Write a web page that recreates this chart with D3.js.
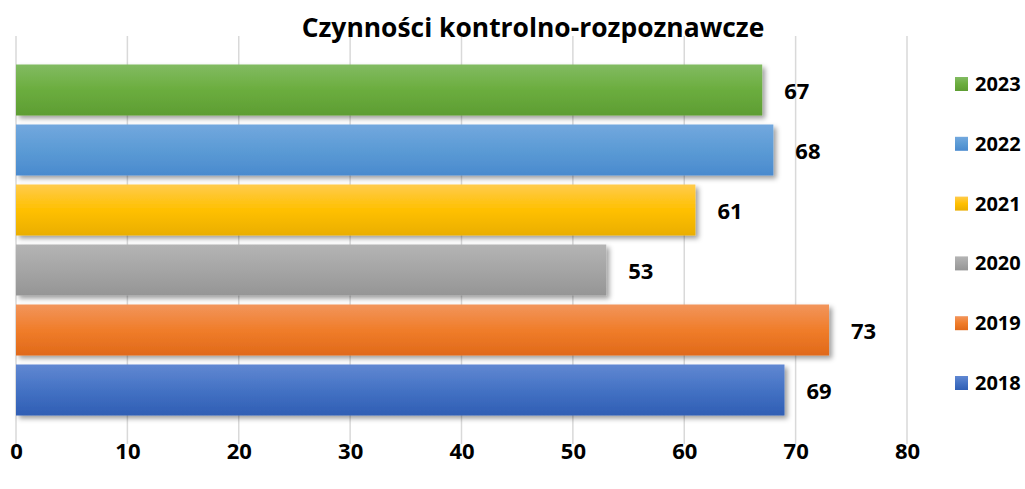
<!DOCTYPE html>
<html><head><meta charset="utf-8">
<script src="https://cdn.jsdelivr.net/npm/d3@7"></script>
<style>
html,body{margin:0;padding:0;background:#fff;}
text{font-family:"Open Sans","DejaVu Sans",sans-serif;font-weight:bold;fill:#000;}
</style></head>
<body><svg id="c" width="1025" height="489"></svg>
<script>
const title = "Czynności kontrolno-rozpoznawcze";
const years = ["2018","2019","2020","2021","2022","2023"];
const values = [69, 73, 53, 61, 68, 67];
const tickValues = [0,10,20,30,40,50,60,70,80];
const colorsTop = ["#6188d2","#f2955c","#b4b4b4","#ffcb4c","#73a8de","#82bb62"];
const colorsMid = ["#4472c4","#f07d2a","#a5a5a5","#ffc000","#5b9bd5","#6bad3e"];
const colorsBot = ["#2f5eb4","#e0691a","#959595","#eaae00","#4a8ace","#5e9d33"];

const svg = d3.select("#c");
const defs = svg.append("defs");
const f = defs.append("filter").attr("id","sh").attr("x","-5%").attr("y","-20%").attr("width","115%").attr("height","160%");
f.append("feDropShadow").attr("dx",3).attr("dy",3).attr("stdDeviation",2.5).attr("flood-color","#000").attr("flood-opacity",0.38);
years.forEach((y,i)=>{
  const g = defs.append("linearGradient").attr("id","g"+y).attr("x1",0).attr("y1",0).attr("x2",0).attr("y2",1);
  g.append("stop").attr("offset","0%").attr("stop-color",colorsTop[i]);
  g.append("stop").attr("offset","50%").attr("stop-color",colorsMid[i]);
  g.append("stop").attr("offset","100%").attr("stop-color",colorsBot[i]);
});

const x = d3.scaleLinear().domain([0,80]).range([16,907]);
const order = years.slice().reverse();
const y = d3.scaleBand().domain(order).range([60,420]).paddingInner(0.15).paddingOuter(0.075);

// gridlines
svg.append("g").selectAll("line").data(tickValues).join("line")
  .attr("x1",d=>x(d)).attr("x2",d=>x(d)).attr("y1",36).attr("y2",444)
  .attr("stroke","#d9d9d9").attr("stroke-width",1.5);

// axis labels
const ax = svg.append("g").attr("transform","translate(0,451)")
  .call(d3.axisBottom(x).tickValues(tickValues).tickSize(0).tickPadding(0).tickFormat(d3.format("d")));
ax.select(".domain").remove();
ax.selectAll("text").attr("font-size",22).attr("dy","0.35em").attr("fill","#000")
  .style("font-family",'"Open Sans",sans-serif').style("font-weight","bold");

// bars
const data = years.map((yr,i)=>({yr, v:values[i]}));
svg.append("g").selectAll("rect").data(data).join("rect")
  .attr("x",x(0)).attr("y",d=>y(d.yr)).attr("width",d=>x(d.v)-x(0)).attr("height",y.bandwidth())
  .attr("fill",d=>"url(#g"+d.yr+")").attr("filter","url(#sh)");

// labels
svg.append("g").selectAll("text").data(data).join("text")
  .attr("x",d=>x(d.v)+22).attr("y",d=>y(d.yr)+y.bandwidth()/2+1).attr("dy","0.35em")
  .attr("font-size",22).text(d=>d.v);

// title
const t = svg.append("text").attr("x",533).attr("y",28).attr("dy","0.35em").attr("text-anchor","middle")
  .attr("font-size",24).text(title);
const w = t.node().getComputedTextLength();
t.attr("font-size", 24*463/w);

// legend
const lg = svg.append("g").selectAll("g").data(order).join("g")
  .attr("transform",(d,i)=>`translate(955,${84 + i*59.8})`);
lg.append("rect").attr("x",0).attr("y",-7).attr("width",13).attr("height",14).attr("fill",d=>"url(#g"+d+")");
lg.append("text").attr("x",20).attr("y",0).attr("dy","0.35em").attr("font-size",20).text(d=>d);
</script></body></html>
